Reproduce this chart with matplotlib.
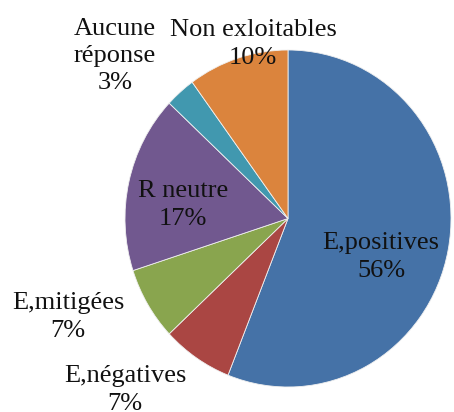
import matplotlib
matplotlib.use("Agg")
import matplotlib.pyplot as plt

# Répartition des réponses
categories = ["E,positives", "E,négatives", "E,mitigées", "R neutre",
              "Aucune\nréponse", "Non exloitables"]
values = [56, 7, 7, 17, 3, 10]
colours = ["#4572A7", "#AA4643", "#89A54E", "#71588F", "#4198AF", "#DB843D"]

# Label block centres in pixels (x, y from top-left), one per category
label_pos = [(381, 257), (125, 390), (68, 317), (183, 205), (115, 56), (253, 44)]

W, H = 454, 412
fig = plt.figure(figsize=(W / 100, H / 100), dpi=100)
ax = fig.add_axes([0, 0, 1, 1])

wedges, _ = ax.pie(values, colors=colours, startangle=90, counterclock=False,
                   radius=1.0, wedgeprops=dict(edgecolor="#f0f0f0", linewidth=0.6))

# pie centre / radii in pixels
cx, cy, rx, ry = 288, 218.5, 163, 168.5
ax.set_aspect("auto")
ax.set_xlim(-cx / rx, (W - cx) / rx)
ax.set_ylim(-(H - cy) / ry, cy / ry)
ax.axis("off")

total = sum(values)
for name, val, (px, py) in zip(categories, values, label_pos):
    txt = f"{name}\n{round(100 * val / total)}%"
    fig.text(px / W, 1 - py / H, txt, ha="center", va="center",
             multialignment="center", fontsize=19, linespacing=1.3,
             family="Liberation Serif", color="#111111")

fig.savefig("out.png", dpi=100)
